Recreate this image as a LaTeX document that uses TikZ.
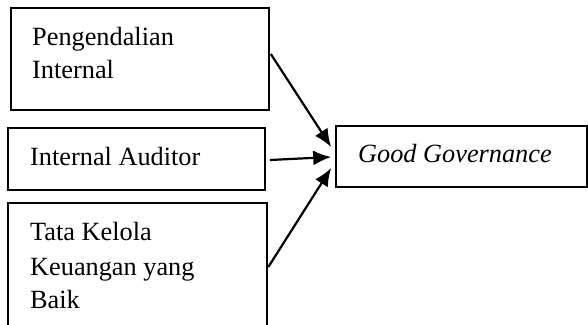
\documentclass[tikz,border=0pt]{standalone}
\usepackage{fontspec}
\setmainfont{Liberation Serif}
\usetikzlibrary{arrows.meta,calc,positioning}

\begin{document}
\begin{tikzpicture}[x=1pt, y=-1pt, >={Latex[length=18pt,width=15pt]},
 block/.style = {draw, rectangle, line width=1.6pt, inner sep=0pt},
 txt/.style   = {anchor=base west, inner sep=0pt, font=\fontsize{26.3}{33}\selectfont},
 link/.style  = {draw, ->, line width=2.2pt},
                        ]
    \useasboundingbox (0,0) rectangle (588,324);
    \clip (0,0) rectangle (588,324);

    % kotak-kotak
    \node [block, minimum width=258pt, minimum height=102pt] (pi) at (140,59)    {};
    \node [block, minimum width=257pt, minimum height=62pt]  (ia) at (136.5,159) {};
    \node [block, minimum width=259pt, minimum height=137pt] (tk) at (137.5,271.5) {};
    \node [block, minimum width=251pt, minimum height=61pt]  (gg) at (461.5,156.5) {};

    % teks
    \node [txt] (pi1) at (32,45)  {Pengendalian};
    \node [txt] (pi2) at (32,78)  {Internal};
    \node [txt] (ia1) at (30,165) {Internal Auditor};
    \node [txt] (tk1) at (30,240) {Tata Kelola};
    \node [txt] (tk2) at (30,275) {Keuangan yang};
    \node [txt] (tk3) at (30,308) {Baik};
    \node [txt] (gg1) at (358,162) {\itshape Good Governance};

    \coordinate (a1) at ($(gg.west)+(-4,-9.5)$);
    \coordinate (a2) at ($(gg.west)+(-4,0.5)$);
    \coordinate (a3) at ($(gg.west)+(-4,11.5)$);

    \path ($(pi.east)+(1,-5)$)     edge[link] (a1)
          ($(ia.east)+(4,1)$)      edge[link] (a2)
          ($(tk.east)+(0.5,-4.5)$) edge[link] (a3)
          ;
\end{tikzpicture}
\end{document}
